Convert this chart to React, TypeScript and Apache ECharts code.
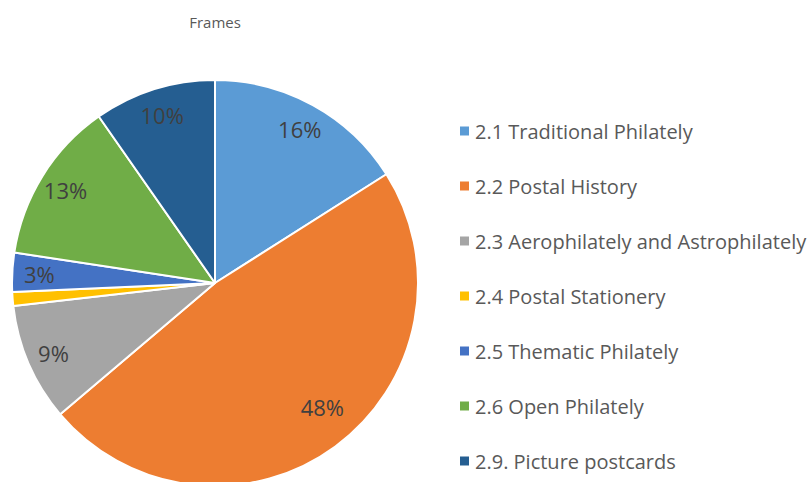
import React, { useEffect, useRef } from "react";
import * as echarts from "echarts";

const categories = [
  "2.1 Traditional Philately",
  "2.2 Postal History",
  "2.3 Aerophilately and Astrophilately",
  "2.4 Postal Stationery",
  "2.5 Thematic Philately",
  "2.6 Open Philately",
  "2.9. Picture postcards",
];
const frameValues = [160, 478, 94, 11, 31, 129, 97];
const sliceColors = ["#5B9BD5", "#ED7D31", "#A5A5A5", "#FFC000", "#4472C4", "#70AD47", "#255E91"];
const hiddenLabels = ["2.4 Postal Stationery"];

export default function App() {
  const ref = useRef<HTMLDivElement>(null);
  useEffect(() => {
    if (!ref.current) return;
    const chart = echarts.init(ref.current, undefined, { renderer: "svg" });
    const font = "Open Sans";
    const pieData = categories.map((name, i) => ({
      name,
      value: frameValues[i],
      itemStyle: { color: sliceColors[i] },
    }));
    const labelData = categories.map((name, i) => ({
      name,
      value: frameValues[i],
      label: i === 1
        ? { show: true, offset: [3, -18] }
        : { show: !hiddenLabels.includes(name) },
    }));
    chart.setOption({
      animation: false,
      backgroundColor: "#ffffff",
      title: {
        text: "Frames",
        left: 215,
        textAlign: "center",
        top: 14,
        padding: 0,
        textStyle: { fontFamily: font, fontSize: 15, fontWeight: "normal", color: "#595959" },
      },
      legend: {
        orient: "vertical",
        left: 458,
        top: 120,
        padding: 0,
        icon: "rect",
        itemWidth: 11,
        itemHeight: 11,
        itemGap: 33,
        data: categories.map((name, i) => ({ name, itemStyle: { color: sliceColors[i] } })),
        textStyle: { fontFamily: font, fontSize: 20, color: "#595959", lineHeight: 22 },
      },
      series: [
        {
          type: "pie",
          center: [215, 283],
          radius: 203,
          startAngle: 90,
          clockwise: true,
          label: { show: false },
          labelLine: { show: false },
          itemStyle: { borderColor: "#ffffff", borderWidth: 2 },
          emphasis: { disabled: true },
          data: pieData,
        },
        {
          type: "pie",
          center: [215, 283],
          radius: [143, 203],
          startAngle: 90,
          clockwise: true,
          silent: true,
          itemStyle: { color: "rgba(0,0,0,0)", borderWidth: 0 },
          label: {
            show: true,
            position: "inside",
            fontFamily: font,
            fontSize: 22,
            color: "#404040",
            formatter: (p: any) => Math.round(p.percent) + "%",
          },
          labelLine: { show: false },
          emphasis: { disabled: true },
          data: labelData,
        },
      ],
    });
    return () => chart.dispose();
  }, []);
  return (
    <div
      ref={ref}
      style={{ position: "fixed", left: 0, top: 0, width: 811, height: 482 }}
    />
  );
}
